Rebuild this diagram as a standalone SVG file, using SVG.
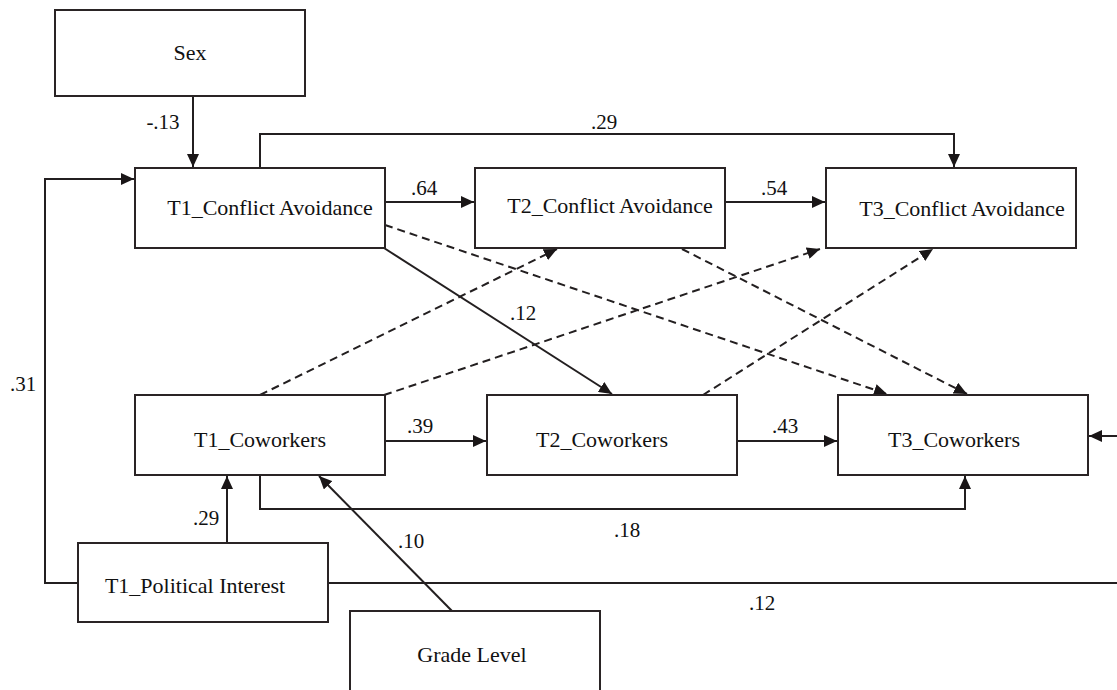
<svg xmlns="http://www.w3.org/2000/svg" width="1117" height="690" viewBox="0 0 1117 690">
  <style>
    text { fill: #111111; text-anchor: middle; }
    .box { fill: #ffffff; stroke: #2a2425; stroke-width: 2; }
    .lbl { font-size: 22px; }
    .coef { font-size: 21px; }
    .solid { fill: none; stroke: #231f20; stroke-width: 2; }
    .dash { fill: none; stroke: #231f20; stroke-width: 2; stroke-dasharray: 8 5; }
  </style>
  <defs>
    <marker id="arrow" markerUnits="userSpaceOnUse" markerWidth="14" markerHeight="12" refX="13" refY="6" orient="auto">
      <path d="M0,0 L13,6 L0,12 z" fill="#1a1617"/>
    </marker>
  </defs>
  <rect width="1117" height="690" fill="#ffffff"/>

  <!-- connectors -->
  <g id="connectors" font-family="Liberation Serif, Tinos, Times New Roman, Times, serif">
    <!-- Sex -> T1 conflict avoidance -->
    <path class="solid" d="M193,96 V167" marker-end="url(#arrow)"/>
    <!-- T1 -> T3 conflict avoidance (over the top) -->
    <path class="solid" d="M260,168 V134 H954 V167" marker-end="url(#arrow)"/>
    <!-- autoregressive paths, conflict avoidance -->
    <path class="solid" d="M385,202 H474" marker-end="url(#arrow)"/>
    <path class="solid" d="M725,202 H825" marker-end="url(#arrow)"/>
    <!-- autoregressive paths, coworkers -->
    <path class="solid" d="M385,441 H486" marker-end="url(#arrow)"/>
    <path class="solid" d="M737,441 H837" marker-end="url(#arrow)"/>
    <!-- T1 conflict avoidance -> T2 coworkers -->
    <path class="solid" d="M384,248 L612,394" marker-end="url(#arrow)"/>
    <!-- non-significant cross-lagged paths -->
    <path class="dash" d="M385,225 L887,394" marker-end="url(#arrow)"/>
    <path class="dash" d="M682,249 L967,394" marker-end="url(#arrow)"/>
    <path class="dash" d="M260,395 L557,249" marker-end="url(#arrow)"/>
    <path class="dash" d="M384,395 L820,249" marker-end="url(#arrow)"/>
    <path class="dash" d="M703,395 L933,249" marker-end="url(#arrow)"/>
    <!-- T1 coworkers -> T3 coworkers (underneath) -->
    <path class="solid" d="M260,476 V509 H965 V476" marker-end="url(#arrow)"/>
    <!-- political interest -> T1 conflict avoidance -->
    <path class="solid" d="M78,583 H45 V179 H134" marker-end="url(#arrow)"/>
    <!-- political interest -> T1 coworkers -->
    <path class="solid" d="M227,543 V476" marker-end="url(#arrow)"/>
    <!-- political interest -> T3 coworkers (runs off to the right) -->
    <path class="solid" d="M329,583 H1117"/>
    <path class="solid" d="M1117,436 H1089" marker-end="url(#arrow)"/>
    <!-- grade level -> T1 coworkers -->
    <path class="solid" d="M452,611 L319,476" marker-end="url(#arrow)"/>

    <!-- path coefficients -->
    <text class="coef" x="163" y="129">-.13</text>
    <text class="coef" x="604" y="129">.29</text>
    <text class="coef" x="424" y="195">.64</text>
    <text class="coef" x="774" y="195">.54</text>
    <text class="coef" x="523" y="320">.12</text>
    <text class="coef" x="420" y="433">.39</text>
    <text class="coef" x="785" y="433">.43</text>
    <text class="coef" x="23" y="391">.31</text>
    <text class="coef" x="206" y="525">.29</text>
    <text class="coef" x="411" y="548">.10</text>
    <text class="coef" x="627" y="537">.18</text>
    <text class="coef" x="762" y="610">.12</text>
  </g>

  <!-- nodes -->
  <g id="nodes" font-family="Liberation Serif, Tinos, Times New Roman, Times, serif">
    <g id="sex">
      <rect class="box" x="55" y="10" width="250" height="86"/>
      <text class="lbl" x="190" y="60">Sex</text>
    </g>
    <g id="t1-conflict-avoidance">
      <rect class="box" x="135" y="168" width="250" height="80"/>
      <text class="lbl" x="270" y="215">T1_Conflict Avoidance</text>
    </g>
    <g id="t2-conflict-avoidance">
      <rect class="box" x="475" y="168" width="250" height="80"/>
      <text class="lbl" x="610" y="213">T2_Conflict Avoidance</text>
    </g>
    <g id="t3-conflict-avoidance">
      <rect class="box" x="826" y="168" width="250" height="80"/>
      <text class="lbl" x="962" y="216">T3_Conflict Avoidance</text>
    </g>
    <g id="t1-coworkers">
      <rect class="box" x="135" y="395" width="250" height="80"/>
      <text class="lbl" x="260" y="447">T1_Coworkers</text>
    </g>
    <g id="t2-coworkers">
      <rect class="box" x="487" y="395" width="250" height="80"/>
      <text class="lbl" x="602" y="447">T2_Coworkers</text>
    </g>
    <g id="t3-coworkers">
      <rect class="box" x="838" y="395" width="250" height="80"/>
      <text class="lbl" x="954" y="447">T3_Coworkers</text>
    </g>
    <g id="t1-political-interest">
      <rect class="box" x="78" y="543" width="250" height="79"/>
      <text class="lbl" x="195" y="593">T1_Political Interest</text>
    </g>
    <g id="grade-level">
      <rect class="box" x="350" y="611" width="250" height="86"/>
      <text class="lbl" x="472" y="662">Grade Level</text>
    </g>
  </g>
</svg>
